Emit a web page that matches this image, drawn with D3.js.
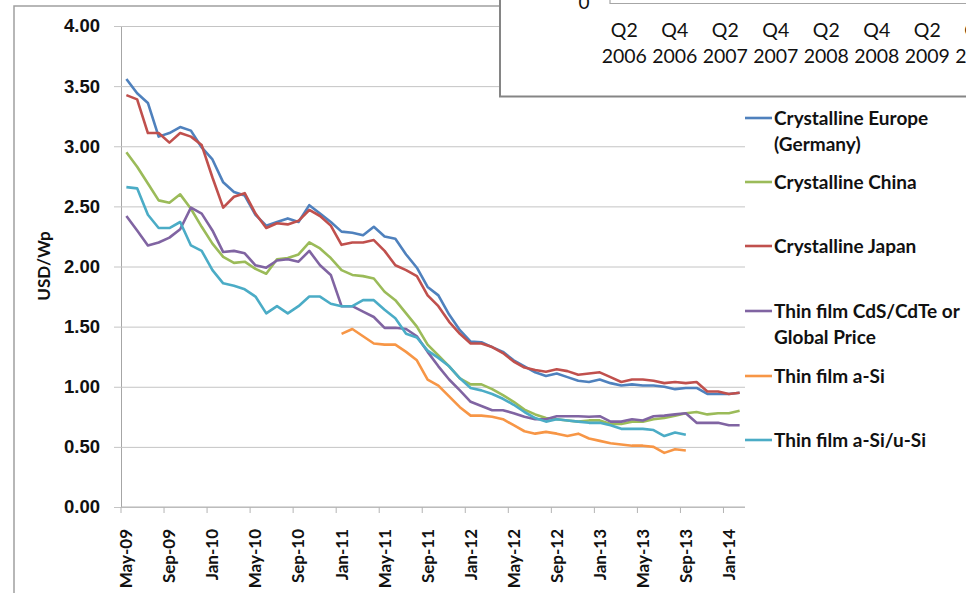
<!DOCTYPE html>
<html>
<head>
<meta charset="utf-8">
<style>
  body { margin: 0; background: #fff; }
  svg { display: block; font-family: Lato, "Open Sans", sans-serif; }
</style>
</head>
<body>
<div id="chart"></div>
<script src="https://d3js.org/d3.v7.min.js"></script>
<script>
const months = [
  "May-09","Jun-09","Jul-09","Aug-09","Sep-09","Oct-09","Nov-09","Dec-09",
  "Jan-10","Feb-10","Mar-10","Apr-10","May-10","Jun-10","Jul-10","Aug-10",
  "Sep-10","Oct-10","Nov-10","Dec-10","Jan-11","Feb-11","Mar-11","Apr-11",
  "May-11","Jun-11","Jul-11","Aug-11","Sep-11","Oct-11","Nov-11","Dec-11",
  "Jan-12","Feb-12","Mar-12","Apr-12","May-12","Jun-12","Jul-12","Aug-12",
  "Sep-12","Oct-12","Nov-12","Dec-12","Jan-13","Feb-13","Mar-13","Apr-13",
  "May-13","Jun-13","Jul-13","Aug-13","Sep-13","Oct-13","Nov-13","Dec-13",
  "Jan-14","Feb-14"
];

const yTicks = [0, 0.5, 1, 1.5, 2, 2.5, 3, 3.5, 4];

const europe = [3.56,3.44,3.36,3.08,3.11,3.16,3.13,2.99,2.89,2.70,2.62,2.59,2.43,2.34,2.37,2.40,
  2.37,2.51,2.44,2.37,2.29,2.28,2.26,2.33,2.25,2.23,2.10,1.99,1.83,1.76,1.60,1.47,
  1.375,1.37,1.33,1.29,1.22,1.17,1.12,1.09,1.11,1.08,1.05,1.04,1.06,1.03,1.01,1.02,
  1.01,1.01,1.00,0.98,0.99,0.99,0.94,0.94,0.94,0.95];

const china = [2.95,2.83,2.69,2.55,2.53,2.60,2.48,2.33,2.19,2.08,2.03,2.04,1.98,1.94,2.06,2.07,
  2.10,2.20,2.15,2.07,1.97,1.93,1.92,1.90,1.79,1.72,1.61,1.50,1.35,1.26,1.17,1.07,
  1.02,1.02,0.98,0.93,0.875,0.81,0.77,0.74,0.73,0.72,0.71,0.72,0.72,0.69,0.69,0.71,
  0.71,0.73,0.74,0.76,0.78,0.79,0.77,0.78,0.78,0.80];

const japan = [3.425,3.39,3.11,3.11,3.03,3.11,3.08,3.01,2.74,2.49,2.58,2.61,2.44,2.32,2.36,2.35,
  2.38,2.47,2.42,2.34,2.18,2.20,2.20,2.22,2.13,2.01,1.97,1.92,1.76,1.67,1.54,1.44,
  1.36,1.36,1.33,1.28,1.21,1.16,1.14,1.125,1.145,1.13,1.10,1.11,1.12,1.08,1.04,1.06,
  1.06,1.05,1.03,1.04,1.03,1.04,0.96,0.96,0.94,0.95];

const cdte = [2.42,2.30,2.175,2.20,2.24,2.31,2.49,2.44,2.30,2.12,2.13,2.11,2.01,1.99,2.05,2.06,
  2.04,2.13,2.01,1.93,1.67,1.67,1.625,1.58,1.49,1.49,1.48,1.42,1.29,1.17,1.06,0.97,
  0.875,0.84,0.805,0.805,0.78,0.75,0.73,0.73,0.755,0.755,0.755,0.75,0.755,0.71,0.71,0.73,
  0.72,0.755,0.76,0.77,0.78,0.70,0.70,0.70,0.68,0.68];

const aSi = [null,null,null,null,null,null,null,null,null,null,null,null,null,null,null,null,
  null,null,null,null,1.44,1.48,1.42,1.36,1.35,1.35,1.29,1.22,1.06,1.01,0.92,0.83,
  0.76,0.76,0.75,0.73,0.68,0.63,0.61,0.625,0.61,0.59,0.61,0.57,0.55,0.53,0.52,0.51,
  0.51,0.50,0.45,0.48,0.47,null,null,null,null,null];

const aSiuSi = [2.66,2.65,2.43,2.32,2.32,2.37,2.175,2.13,1.97,1.86,1.84,1.81,1.75,1.61,1.67,1.61,
  1.67,1.75,1.75,1.69,1.67,1.67,1.72,1.72,1.64,1.57,1.44,1.41,1.30,1.24,1.17,1.07,
  0.99,0.97,0.94,0.90,0.85,0.79,0.74,0.71,0.73,0.72,0.71,0.70,0.70,0.68,0.65,0.65,
  0.65,0.64,0.59,0.62,0.60,null,null,null,null,null];

const series = [
  { name: ["Crystalline Europe", "(Germany)"], values: europe, color: "#4f81bd" },
  { name: ["Crystalline China"], values: china, color: "#9bbb59" },
  { name: ["Crystalline Japan"], values: japan, color: "#c0504d" },
  { name: ["Thin film CdS/CdTe or", "Global Price"], values: cdte, color: "#8064a2" },
  { name: ["Thin film a-Si"], values: aSi, color: "#f79646" },
  { name: ["Thin film a-Si/u-Si"], values: aSiuSi, color: "#4bacc6" }
];

// the cropped chart in the top right corner
const insetQuarters = ["Q2","Q4","Q2","Q4","Q2","Q4","Q2","Q4"];
const insetYears = ["2006","2006","2007","2007","2008","2008","2009","2009"];

const width = 966, height = 593;
const svg = d3.select("#chart").append("svg")
    .attr("width", width)
    .attr("height", height);

// outer frame of the chart
svg.append("path")
    .attr("d", "M14,600V6H966")
    .attr("fill", "none")
    .attr("stroke", "#a0a0a0")
    .attr("stroke-width", 1.5);

const x = d3.scaleBand().domain(months).range([121, 745]).padding(0);
const y = d3.scaleLinear().domain([0, 4]).range([507, 26]);

// y axis with gridlines
const yAxis = svg.append("g")
    .attr("transform", "translate(121,0)")
    .call(d3.axisLeft(y).tickValues(yTicks).tickFormat(d3.format(".2f"))
      .tickSizeInner(-(745 - 121)).tickSizeOuter(0).tickPadding(21));
yAxis.select(".domain").attr("stroke", "#a6a6a6");
yAxis.selectAll(".tick line").attr("x1", -7).attr("stroke", "#c4c4c4");
yAxis.selectAll(".tick text")
    .attr("font-size", 18.5)
    .attr("font-weight", "bold")
    .attr("fill", "#111");

svg.append("text")
    .attr("transform", "translate(50,266) rotate(-90)")
    .attr("text-anchor", "middle")
    .attr("font-size", 17)
    .attr("font-weight", "bold")
    .attr("fill", "#111")
    .text("USD/Wp");

// x axis: ticks on category boundaries, labels centred on the category
const labelMonths = months.filter((m, i) => i % 4 === 0);
svg.append("line")
    .attr("x1", 121).attr("x2", 745)
    .attr("y1", 507).attr("y2", 507)
    .attr("stroke", "#b4b4b4");
svg.append("g").selectAll("line")
    .data(labelMonths)
    .join("line")
    .attr("x1", d => x(d)).attr("x2", d => x(d))
    .attr("y1", 507).attr("y2", 513)
    .attr("stroke", "#b4b4b4");
svg.append("g").selectAll("text")
    .data(labelMonths)
    .join("text")
    .attr("transform", d => `translate(${x(d) + x.bandwidth() / 2},529) rotate(-90)`)
    .attr("text-anchor", "end")
    .attr("dy", "0.35em")
    .attr("font-size", 17)
    .attr("font-weight", "bold")
    .attr("fill", "#111")
    .text(d => d);

// lines
const line = d3.line()
    .defined(d => d.v !== null)
    .x(d => x(d.m) + x.bandwidth() / 2)
    .y(d => y(d.v));

svg.append("g").selectAll("path")
    .data(series)
    .join("path")
    .attr("fill", "none")
    .attr("stroke", d => d.color)
    .attr("stroke-width", 2.6)
    .attr("stroke-linejoin", "round")
    .attr("d", d => line(d.values.map((v, i) => ({ m: months[i], v: v }))));

// legend
const legendY = [118, 182, 246, 311, 376, 440];
const legend = svg.append("g").selectAll("g")
    .data(series)
    .join("g")
    .attr("transform", (d, i) => `translate(745,${legendY[i]})`);
legend.append("line")
    .attr("x1", 0).attr("x2", 27)
    .attr("stroke", d => d.color)
    .attr("stroke-width", 2.6);
legend.append("text")
    .attr("x", 29)
    .attr("font-size", 19)
    .attr("font-weight", "bold")
    .attr("fill", "#111")
    .selectAll("tspan")
    .data(d => d.name)
    .join("tspan")
    .attr("x", 29)
    .attr("y", (d, i) => i * 26)
    .attr("dy", "0.35em")
    .text(d => d);

// inset box of another chart, cropped by the picture edge
const inset = svg.append("g");
inset.append("rect")
    .attr("x", 500).attr("y", -10)
    .attr("width", 480).attr("height", 106.5)
    .attr("fill", "#fff")
    .attr("stroke", "#858585")
    .attr("stroke-width", 2);
inset.append("path")
    .attr("d", "M610,0V3.5H966")
    .attr("fill", "none")
    .attr("stroke", "#a6a6a6")
    .attr("stroke-width", 1.2);
inset.append("text")
    .attr("x", 584).attr("y", 9)
    .attr("text-anchor", "middle")
    .attr("font-size", 19)
    .attr("fill", "#111")
    .text("0");
const qx = d3.scaleBand().domain(d3.range(insetQuarters.length)).range([599, 599 + 50.5 * insetQuarters.length]);
inset.append("g").selectAll("text")
    .data(insetQuarters)
    .join("text")
    .attr("x", (d, i) => qx(i) + qx.bandwidth() / 2)
    .attr("y", 37)
    .attr("text-anchor", "middle")
    .attr("font-size", 19.5)
    .attr("fill", "#111")
    .text(d => d);
inset.append("g").selectAll("text")
    .data(insetYears)
    .join("text")
    .attr("x", (d, i) => qx(i) + qx.bandwidth() / 2)
    .attr("y", 63)
    .attr("text-anchor", "middle")
    .attr("font-size", 19.5)
    .attr("fill", "#111")
    .text(d => d);
</script>
</body>
</html>
